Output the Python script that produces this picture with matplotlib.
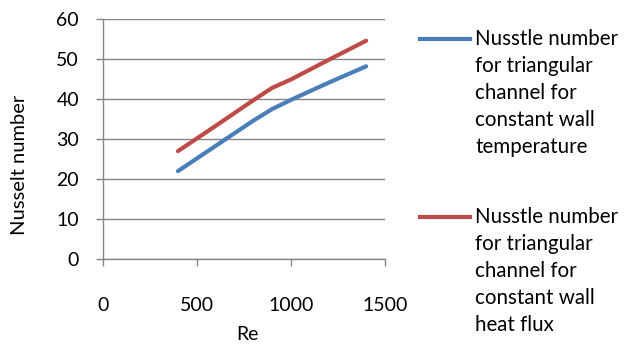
import matplotlib
matplotlib.use('Agg')
import matplotlib.pyplot as plt

# data
re_values = [400, 600, 800, 900, 1000, 1200, 1400]
nu_wall_temp = [22.0, 28.3, 34.6, 37.5, 39.8, 44.1, 48.2]
nu_heat_flux = [27.0, 33.3, 39.7, 42.8, 44.9, 49.8, 54.6]
x_ticks = [0, 500, 1000, 1500]
y_ticks = [0, 10, 20, 30, 40, 50, 60]
labels = ['Nusstle number\nfor triangular\nchannel for\nconstant wall\ntemperature',
          'Nusstle number\nfor triangular\nchannel for\nconstant wall\nheat flux']

plt.rcParams['font.family'] = ['Lato', 'DejaVu Sans']
grey = '#868686'
W, H = 626, 354

fig = plt.figure(figsize=(6.26, 3.54), dpi=100)
ax = fig.add_axes([0.164, 0.268, 0.451, 0.678])

line1, = ax.plot(re_values, nu_wall_temp, color='#4A7EBB', lw=3, solid_capstyle='round')
line2, = ax.plot(re_values, nu_heat_flux, color='#BE4B48', lw=3, solid_capstyle='round')

ax.set_xlim(0, 1500)
ax.set_ylim(0, 60)
ax.set_xticks(x_ticks)
ax.set_yticks(y_ticks)
ax.yaxis.grid(True, color=grey, lw=1)
ax.set_axisbelow(True)
for s in ['top', 'right']:
    ax.spines[s].set_visible(False)
for s in ['left', 'bottom']:
    ax.spines[s].set_color(grey)
    ax.spines[s].set_linewidth(1)
ax.tick_params(axis='both', colors=grey, labelcolor='black', labelsize=14, length=5, width=1)
ax.tick_params(axis='x', pad=22)
ax.tick_params(axis='y', pad=12)

# axis titles
fig.text(247 / W, 1 - 335 / H, 'Re', fontsize=14, ha='center', va='center')
fig.text(20 / W, 1 - 165 / H, 'Nusselt number', fontsize=14.5, rotation=90, ha='center', va='center')

# legend entries placed manually at right side
for y_line, y_top, line, text in [(39, 29, line1, labels[0]), (217, 207, line2, labels[1])]:
    fig.add_artist(plt.Line2D([420 / W, 470 / W], [1 - y_line / H, 1 - y_line / H],
                              color=line.get_color(), lw=3, transform=fig.transFigure))
    fig.text(475 / W, 1 - y_top / H, text, fontsize=14.8, va='top', ha='left', linespacing=1.43)

fig.savefig('out.png', dpi=100)
